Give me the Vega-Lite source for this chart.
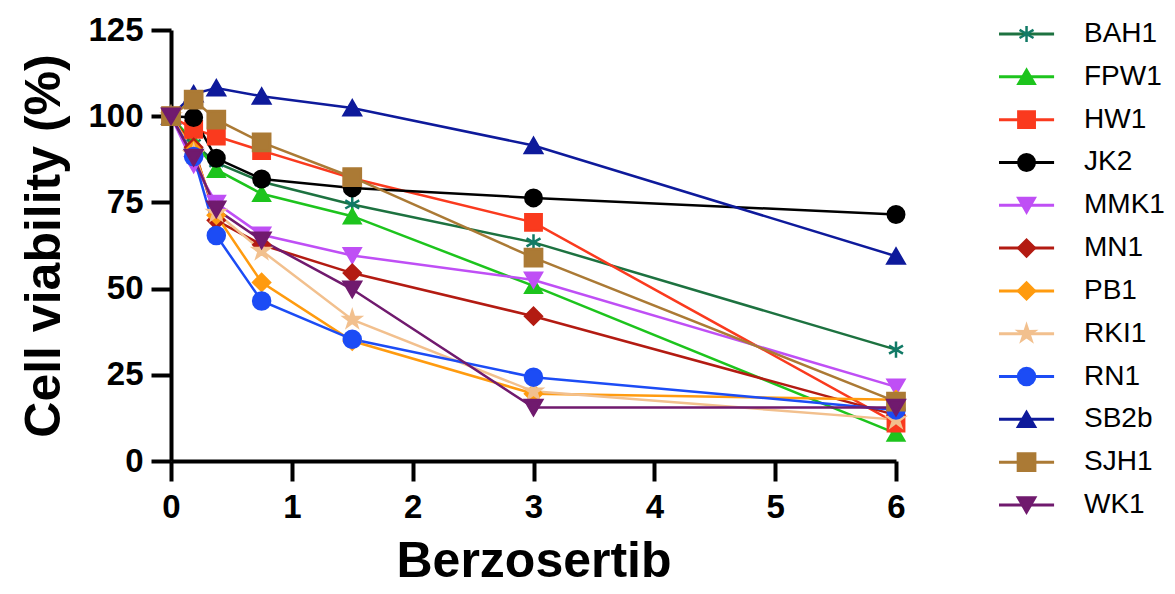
{
  "$schema": "https://vega.github.io/schema/vega-lite/v6.json",
  "background": "white",
  "padding": {"left": 19, "top": 14, "right": 5, "bottom": 5},
  "spacing": 87,
  "config": {
    "view": {"stroke": null},
    "axis": {
      "grid": false,
      "domainColor": "black",
      "domainWidth": 4,
      "tickColor": "black",
      "tickWidth": 4,
      "tickSize": 20,
      "labelFont": "Liberation Sans",
      "labelFontWeight": "bold",
      "labelFontSize": 33,
      "labelColor": "black",
      "titleFont": "Liberation Sans",
      "titleFontWeight": "bold",
      "titleFontSize": 50,
      "titleColor": "black"
    }
  },
  "datasets": {
    "viab": [
      {"strain": "BAH1", "dose": 0, "viability": 100},
      {"strain": "BAH1", "dose": 0.1875, "viability": 92},
      {"strain": "BAH1", "dose": 0.375, "viability": 86.5},
      {"strain": "BAH1", "dose": 0.75, "viability": 81},
      {"strain": "BAH1", "dose": 1.5, "viability": 74.4},
      {"strain": "BAH1", "dose": 3, "viability": 63.4},
      {"strain": "BAH1", "dose": 6, "viability": 32.3},
      {"strain": "FPW1", "dose": 0, "viability": 100},
      {"strain": "FPW1", "dose": 0.1875, "viability": 92.5},
      {"strain": "FPW1", "dose": 0.375, "viability": 84.5},
      {"strain": "FPW1", "dose": 0.75, "viability": 77.5},
      {"strain": "FPW1", "dose": 1.5, "viability": 71},
      {"strain": "FPW1", "dose": 3, "viability": 50.8},
      {"strain": "FPW1", "dose": 6, "viability": 8},
      {"strain": "HW1", "dose": 0, "viability": 100},
      {"strain": "HW1", "dose": 0.1875, "viability": 96.2},
      {"strain": "HW1", "dose": 0.375, "viability": 94.2},
      {"strain": "HW1", "dose": 0.75, "viability": 90},
      {"strain": "HW1", "dose": 1.5, "viability": 82},
      {"strain": "HW1", "dose": 3, "viability": 69.2},
      {"strain": "HW1", "dose": 6, "viability": 11},
      {"strain": "JK2", "dose": 0, "viability": 100},
      {"strain": "JK2", "dose": 0.1875, "viability": 99.6},
      {"strain": "JK2", "dose": 0.375, "viability": 87.8},
      {"strain": "JK2", "dose": 0.75, "viability": 81.8},
      {"strain": "JK2", "dose": 1.5, "viability": 79.2},
      {"strain": "JK2", "dose": 3, "viability": 76.3},
      {"strain": "JK2", "dose": 6, "viability": 71.5},
      {"strain": "MMK1", "dose": 0, "viability": 100},
      {"strain": "MMK1", "dose": 0.1875, "viability": 86},
      {"strain": "MMK1", "dose": 0.375, "viability": 74.8},
      {"strain": "MMK1", "dose": 0.75, "viability": 65.6},
      {"strain": "MMK1", "dose": 1.5, "viability": 59.6},
      {"strain": "MMK1", "dose": 3, "viability": 52.5},
      {"strain": "MMK1", "dose": 6, "viability": 21.5},
      {"strain": "MN1", "dose": 0, "viability": 100},
      {"strain": "MN1", "dose": 0.1875, "viability": 91},
      {"strain": "MN1", "dose": 0.375, "viability": 69.8},
      {"strain": "MN1", "dose": 0.75, "viability": 62.7},
      {"strain": "MN1", "dose": 1.5, "viability": 54.5},
      {"strain": "MN1", "dose": 3, "viability": 42},
      {"strain": "MN1", "dose": 6, "viability": 13.3},
      {"strain": "PB1", "dose": 0, "viability": 100},
      {"strain": "PB1", "dose": 0.1875, "viability": 90},
      {"strain": "PB1", "dose": 0.375, "viability": 71.3},
      {"strain": "PB1", "dose": 0.75, "viability": 51.8},
      {"strain": "PB1", "dose": 1.5, "viability": 34.8},
      {"strain": "PB1", "dose": 3, "viability": 19.5},
      {"strain": "PB1", "dose": 6, "viability": 17.8},
      {"strain": "RKI1", "dose": 0, "viability": 100},
      {"strain": "RKI1", "dose": 0.1875, "viability": 89},
      {"strain": "RKI1", "dose": 0.375, "viability": 72},
      {"strain": "RKI1", "dose": 0.75, "viability": 61},
      {"strain": "RKI1", "dose": 1.5, "viability": 41},
      {"strain": "RKI1", "dose": 3, "viability": 20.2},
      {"strain": "RKI1", "dose": 6, "viability": 12},
      {"strain": "RN1", "dose": 0, "viability": 100},
      {"strain": "RN1", "dose": 0.1875, "viability": 88.3},
      {"strain": "RN1", "dose": 0.375, "viability": 65.4},
      {"strain": "RN1", "dose": 0.75, "viability": 46.4},
      {"strain": "RN1", "dose": 1.5, "viability": 35.3},
      {"strain": "RN1", "dose": 3, "viability": 24.3},
      {"strain": "RN1", "dose": 6, "viability": 14.8},
      {"strain": "SB2b", "dose": 0, "viability": 100},
      {"strain": "SB2b", "dose": 0.1875, "viability": 106.5},
      {"strain": "SB2b", "dose": 0.375, "viability": 108.2},
      {"strain": "SB2b", "dose": 0.75, "viability": 105.8},
      {"strain": "SB2b", "dose": 1.5, "viability": 102.4},
      {"strain": "SB2b", "dose": 3, "viability": 91.5},
      {"strain": "SB2b", "dose": 6, "viability": 59.4},
      {"strain": "SJH1", "dose": 0, "viability": 100},
      {"strain": "SJH1", "dose": 0.1875, "viability": 104.8},
      {"strain": "SJH1", "dose": 0.375, "viability": 99},
      {"strain": "SJH1", "dose": 0.75, "viability": 92.4},
      {"strain": "SJH1", "dose": 1.5, "viability": 82.3},
      {"strain": "SJH1", "dose": 3, "viability": 59},
      {"strain": "SJH1", "dose": 6, "viability": 17.2},
      {"strain": "WK1", "dose": 0, "viability": 100},
      {"strain": "WK1", "dose": 0.1875, "viability": 88},
      {"strain": "WK1", "dose": 0.375, "viability": 73},
      {"strain": "WK1", "dose": 0.75, "viability": 64},
      {"strain": "WK1", "dose": 1.5, "viability": 49.8},
      {"strain": "WK1", "dose": 3, "viability": 15.5},
      {"strain": "WK1", "dose": 6, "viability": 15.5}
    ],
    "series": [
      {"strain": "BAH1"}, {"strain": "FPW1"}, {"strain": "HW1"}, {"strain": "JK2"},
      {"strain": "MMK1"}, {"strain": "MN1"}, {"strain": "PB1"}, {"strain": "RKI1"},
      {"strain": "RN1"}, {"strain": "SB2b"}, {"strain": "SJH1"}, {"strain": "WK1"}
    ]
  },
  "hconcat": [
    {
      "width": 725,
      "height": 431,
      "data": {"name": "viab"},
      "encoding": {
        "x": {
          "field": "dose", "type": "quantitative",
          "scale": {"domain": [0, 6], "nice": false, "zero": false},
          "axis": {"values": [0, 1, 2, 3, 4, 5, 6], "title": "Berzosertib", "labelPadding": 10, "titlePadding": 12, "labelFlush": false}
        },
        "y": {
          "field": "viability", "type": "quantitative",
          "scale": {"domain": [0, 125], "nice": false},
          "axis": {"values": [0, 25, 50, 75, 100, 125], "title": "Cell viability (%)", "labelPadding": 8, "titlePadding": 18, "labelFlush": false}
        }
      },
      "layer": [
        {
          "mark": {"type": "line", "strokeWidth": 2.5},
          "encoding": {
            "color": {
              "field": "strain", "type": "nominal", "legend": null,
              "scale": {
                "domain": ["BAH1", "FPW1", "HW1", "JK2", "MMK1", "MN1", "PB1", "RKI1", "RN1", "SB2b", "SJH1", "WK1"],
                "range": ["#1d7240", "#1dc41d", "#fa3a1e", "#000000", "#bf4ff5", "#b31b12", "#ff9b0f", "#f2c08e", "#1c4cf5", "#0e1a9b", "#ab7a35", "#701a6e"]
              }
            }
          }
        },
        {
          "mark": {"type": "point", "filled": true, "opacity": 1, "strokeWidth": 2.5},
          "encoding": {
            "fill": {
              "field": "strain", "type": "nominal", "legend": null,
              "scale": {
                "domain": ["BAH1", "FPW1", "HW1", "JK2", "MMK1", "MN1", "PB1", "RKI1", "RN1", "SB2b", "SJH1", "WK1"],
                "range": ["#117a66", "#1dc41d", "#fa3a1e", "#000000", "#bf4ff5", "#b31b12", "#ff9b0f", "#f2c08e", "#1c4cf5", "#0e1a9b", "#ab7a35", "#701a6e"]
              }
            },
            "stroke": {
              "field": "strain", "type": "nominal", "legend": null,
              "scale": {
                "domain": ["BAH1", "FPW1", "HW1", "JK2", "MMK1", "MN1", "PB1", "RKI1", "RN1", "SB2b", "SJH1", "WK1"],
                "range": ["#117a66", "#1dc41d", "#fa3a1e", "#000000", "#bf4ff5", "#b31b12", "#ff9b0f", "#f2c08e", "#1c4cf5", "#0e1a9b", "#ab7a35", "#701a6e"]
              }
            },
            "shape": {
              "field": "strain", "type": "nominal", "legend": null,
              "scale": {
                "domain": ["BAH1", "FPW1", "HW1", "JK2", "MMK1", "MN1", "PB1", "RKI1", "RN1", "SB2b", "SJH1", "WK1"],
                "range": [
                  "M0,-1L0,1M-0.866,-0.5L0.866,0.5M-0.866,0.5L0.866,-0.5",
                  "triangle-up", "square", "circle", "triangle-down", "diamond", "diamond",
                  "M0,-1L0.223,-0.307L0.951,-0.309L0.361,0.117L0.588,0.809L0,0.38L-0.588,0.809L-0.361,0.117L-0.951,-0.309L-0.223,-0.307Z",
                  "circle", "triangle-up", "square", "triangle-down"
                ]
              }
            },
            "size": {
              "field": "strain", "type": "nominal", "legend": null,
              "scale": {
                "domain": ["BAH1", "FPW1", "HW1", "JK2", "MMK1", "MN1", "PB1", "RKI1", "RN1", "SB2b", "SJH1", "WK1"],
                "range": [260, 300, 300, 300, 300, 260, 170, 200, 300, 300, 300, 300]
              }
            }
          }
        }
      ]
    },
    {
      "width": 170,
      "height": 479,
      "data": {"name": "series"},
      "encoding": {
        "y": {
          "field": "strain", "type": "nominal", "axis": null,
          "scale": {"type": "point", "domain": ["BAH1", "FPW1", "HW1", "JK2", "MMK1", "MN1", "PB1", "RKI1", "RN1", "SB2b", "SJH1", "WK1"], "padding": 0.093}
        }
      },
      "layer": [
        {
          "mark": {"type": "rule", "strokeWidth": 3},
          "encoding": {
            "x": {"datum": 0, "type": "quantitative", "scale": {"domain": [0, 1], "nice": false}, "axis": null},
            "x2": {"datum": 0.324},
            "color": {
              "field": "strain", "type": "nominal", "legend": null,
              "scale": {
                "domain": ["BAH1", "FPW1", "HW1", "JK2", "MMK1", "MN1", "PB1", "RKI1", "RN1", "SB2b", "SJH1", "WK1"],
                "range": ["#1d7240", "#1dc41d", "#fa3a1e", "#000000", "#bf4ff5", "#b31b12", "#ff9b0f", "#f2c08e", "#1c4cf5", "#0e1a9b", "#ab7a35", "#701a6e"]
              }
            }
          }
        },
        {
          "mark": {"type": "point", "filled": true, "opacity": 1, "strokeWidth": 2.5},
          "encoding": {
            "x": {"datum": 0.162, "type": "quantitative", "scale": {"domain": [0, 1], "nice": false}, "axis": null},
            "fill": {
              "field": "strain", "type": "nominal", "legend": null,
              "scale": {
                "domain": ["BAH1", "FPW1", "HW1", "JK2", "MMK1", "MN1", "PB1", "RKI1", "RN1", "SB2b", "SJH1", "WK1"],
                "range": ["#117a66", "#1dc41d", "#fa3a1e", "#000000", "#bf4ff5", "#b31b12", "#ff9b0f", "#f2c08e", "#1c4cf5", "#0e1a9b", "#ab7a35", "#701a6e"]
              }
            },
            "stroke": {
              "field": "strain", "type": "nominal", "legend": null,
              "scale": {
                "domain": ["BAH1", "FPW1", "HW1", "JK2", "MMK1", "MN1", "PB1", "RKI1", "RN1", "SB2b", "SJH1", "WK1"],
                "range": ["#117a66", "#1dc41d", "#fa3a1e", "#000000", "#bf4ff5", "#b31b12", "#ff9b0f", "#f2c08e", "#1c4cf5", "#0e1a9b", "#ab7a35", "#701a6e"]
              }
            },
            "shape": {
              "field": "strain", "type": "nominal", "legend": null,
              "scale": {
                "domain": ["BAH1", "FPW1", "HW1", "JK2", "MMK1", "MN1", "PB1", "RKI1", "RN1", "SB2b", "SJH1", "WK1"],
                "range": [
                  "M0,-1L0,1M-0.866,-0.5L0.866,0.5M-0.866,0.5L0.866,-0.5",
                  "triangle-up", "square", "circle", "triangle-down", "diamond", "diamond",
                  "M0,-1L0.223,-0.307L0.951,-0.309L0.361,0.117L0.588,0.809L0,0.38L-0.588,0.809L-0.361,0.117L-0.951,-0.309L-0.223,-0.307Z",
                  "circle", "triangle-up", "square", "triangle-down"
                ]
              }
            },
            "size": {
              "field": "strain", "type": "nominal", "legend": null,
              "scale": {
                "domain": ["BAH1", "FPW1", "HW1", "JK2", "MMK1", "MN1", "PB1", "RKI1", "RN1", "SB2b", "SJH1", "WK1"],
                "range": [260, 300, 300, 300, 300, 260, 170, 200, 300, 300, 300, 300]
              }
            }
          }
        },
        {
          "mark": {"type": "text", "align": "left", "baseline": "middle", "font": "Liberation Sans", "fontSize": 28, "color": "black"},
          "encoding": {
            "x": {"datum": 0.5, "type": "quantitative", "scale": {"domain": [0, 1], "nice": false}, "axis": null},
            "text": {"field": "strain"}
          }
        }
      ]
    }
  ]
}
